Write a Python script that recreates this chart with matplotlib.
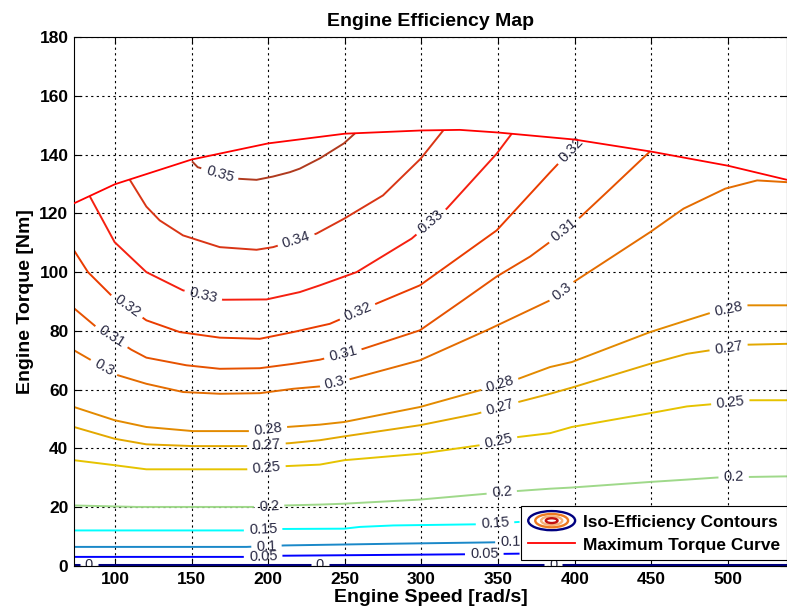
import numpy as np
import matplotlib
matplotlib.use("Agg")
import matplotlib.pyplot as plt
from matplotlib.contour import ContourSet
from matplotlib.legend_handler import HandlerBase
from matplotlib.patches import Ellipse, Patch

plt.rcParams['font.family'] = ['Liberation Sans', 'DejaVu Sans']

# efficiency levels and their line colours
levels = [0, 0.05, 0.1, 0.15, 0.2, 0.25, 0.27, 0.28, 0.3, 0.31, 0.32, 0.33, 0.34, 0.35]
level_colors = ['#000080', '#0000ff', '#1a88c8', '#00ffff', '#9fd98a', '#e6c300', '#e3a800',
                '#e38a00', '#e46c00', '#e65200', '#ea3c00', '#f52010', '#d93515', '#b03a1e']

# maximum torque curve
max_speed = [73.3, 100, 150, 200, 250, 300, 325, 350, 400, 450, 500, 538.5]
max_torque = [123.4, 129.9, 138.3, 143.8, 147.1, 148.2, 148.4, 147.5, 145.1, 141.0, 136.2, 131.4]

# iso-efficiency lines (speed rad/s, torque Nm)
c000_speed = [73.3, 538.5]
c000_torque = [0.3, 0.3]
c005_speed = [73.3, 185.8, 209.7, 331.7, 364.0]
c005_torque = [3.1, 3.1, 3.5, 4.0, 4.2]
c010_speed = [73.3, 185.8, 210.8, 283.8, 340.4, 364.0]
c010_torque = [6.5, 6.5, 7.0, 7.6, 8.0, 8.2]
c015_speed = [73.3, 185.8, 209.7, 249.6, 259.8, 281.6, 338.2, 364.0]
c015_torque = [12.1, 12.1, 12.6, 12.7, 13.3, 13.8, 14.2, 15.0]
c020_speed = [73.3, 114.0, 192.4, 210.8, 233.7, 249.6, 299.0, 342.6, 362.2, 383.9, 398.1,
              449.2, 473.2, 492.8, 513.5, 538.5]
c020_torque = [20.6, 20.1, 20.1, 20.6, 20.9, 21.2, 22.6, 24.6, 25.5, 26.3, 26.7,
               28.6, 29.4, 30.1, 30.3, 30.5]
c025_speed = [73.3, 99.8, 120.5, 185.8, 212.0, 233.7, 249.6, 299.0, 338.2, 363.2, 383.9,
              398.1, 449.2, 473.2, 488.4, 513.5, 538.5]
c025_torque = [36.0, 34.3, 32.9, 32.9, 34.0, 34.5, 36.0, 38.2, 41.1, 43.9, 45.2,
               47.3, 52.0, 54.3, 55.0, 56.4, 56.4]
c027_speed = [73.3, 99.8, 120.5, 150.9, 185.8, 214.1, 233.7, 249.6, 299.0, 336.1, 363.2,
              383.9, 398.1, 449.2, 473.2, 488.4, 512.4, 538.5]
c027_torque = [47.3, 43.3, 41.4, 40.8, 40.8, 41.8, 42.8, 44.1, 47.9, 51.8, 55.8,
               58.6, 60.7, 68.8, 72.2, 73.4, 75.3, 75.6]
c028_speed = [73.3, 99.8, 120.5, 150.9, 190.1, 212.0, 233.7, 249.6, 299.0, 338.2, 363.2,
              383.9, 398.1, 449.2, 473.2, 488.4, 512.4, 538.5]
c028_torque = [54.1, 49.6, 47.3, 45.9, 45.9, 47.3, 48.1, 49.0, 54.1, 59.8, 63.7,
               67.7, 69.4, 79.6, 83.6, 86.1, 88.7, 88.7]
c030_speed = [73.3, 84.6, 102.0, 120.5, 144.4, 168.4, 194.5, 216.3, 233.7, 252.2, 299.0,
              342.6, 383.9, 399.2, 449.2, 471.0, 498.2, 519.0, 538.5]
c030_torque = [73.4, 70.0, 64.9, 62.0, 59.2, 58.6, 58.8, 60.3, 61.1, 63.4, 70.0,
               80.2, 90.4, 96.6, 113.6, 121.6, 128.4, 131.2, 130.6]
c031_speed = [73.3, 87.9, 110.7, 120.5, 146.6, 168.4, 194.5, 216.3, 233.7, 262.0, 299.0,
              327.1, 349.1, 370.9, 382.6, 403.6, 421.0, 449.2]
c031_torque = [87.7, 81.3, 73.6, 70.9, 68.3, 67.1, 67.3, 68.8, 70.2, 73.9, 80.2,
               90.4, 98.5, 105.3, 109.8, 118.7, 127.2, 141.1]
c032_speed = [73.3, 82.4, 97.6, 120.5, 142.3, 168.4, 194.5, 216.3, 240.2, 270.7, 299.0,
              349.1, 384.0, 403.6]
c032_torque = [107.4, 100.0, 92.1, 83.6, 79.6, 77.7, 77.3, 79.6, 82.4, 89.3, 95.5,
               114.2, 134.0, 144.8]
c033_speed = [83.5, 99.8, 120.5, 144.4, 170.5, 198.9, 220.6, 233.7, 257.7, 293.6, 316.5,
              349.1, 358.9]
c033_torque = [125.9, 110.2, 100.0, 93.8, 90.6, 90.7, 93.2, 95.5, 100.0, 111.4, 121.6,
               140.3, 147.1]
c034_speed = [109.6, 120.5, 129.2, 144.4, 168.4, 192.4, 203.2, 231.5, 249.6, 274.9, 299.5, 314.2]
c034_torque = [131.5, 122.3, 117.6, 112.5, 108.5, 107.6, 108.5, 113.1, 118.2, 126.1, 138.6, 148.2]
c035_speed = [150.3, 154.0, 179.3, 192.4, 203.0, 214.1, 220.6, 233.7, 249.4, 256.6]
c035_torque = [137.7, 135.7, 131.8, 131.4, 132.5, 134.0, 135.2, 138.7, 143.8, 147.2]

# where the contour labels sit
label_pos = [(82.9, 0.3), (233.7, 0.3), (385.9, 0.3),
             (196.7, 3.2), (341.0, 4.0),
             (198.9, 6.6), (358.0, 8.1),
             (196.7, 12.1), (348.0, 14.5),
             (200.6, 20.2), (352.4, 25.0), (503.7, 30.2),
             (198.9, 33.3), (350.2, 42.4), (501.5, 55.7),
             (198.9, 41.2), (351.3, 53.7), (500.4, 74.3),
             (199.9, 46.4), (351.3, 61.5), (500.4, 87.4),
             (92.2, 67.0), (243.5, 62.2), (391.6, 93.3),
             (96.5, 77.0), (248.9, 71.8), (393.7, 113.8),
             (107.4, 88.0), (258.7, 86.0), (398.1, 141.4),
             (157.5, 91.8), (306.7, 116.8),
             (218.5, 110.5),
             (168.4, 133.5)]


class HandlerIso(HandlerBase):
    # little nested ellipses like matlab's contour legend icon
    def create_artists(self, legend, orig_handle, xdescent, ydescent, width, height, fontsize, trans):
        cx = width / 2 - xdescent
        cy = height / 2 - ydescent
        h = fontsize * 1.1
        rings = [(1.0, '#000080'), (0.7, '#ee7a20'), (0.45, '#f6b27a'), (0.25, '#c01010')]
        arts = []
        for frac, col in rings:
            e = Ellipse((cx, cy), width * frac, h * frac, fill=False, edgecolor=col,
                        linewidth=1.7, transform=trans)
            arts.append(e)
        return arts


fig = plt.figure(figsize=(7.87, 6.16), dpi=100)
ax = fig.add_axes([74 / 787, 50 / 616, 713 / 787, 529 / 616])
ax.set_xlim(73.3, 538.5)
ax.set_ylim(0, 180)

allsegs = []
for sp, tq in [(c000_speed, c000_torque), (c005_speed, c005_torque), (c010_speed, c010_torque),
               (c015_speed, c015_torque), (c020_speed, c020_torque), (c025_speed, c025_torque),
               (c027_speed, c027_torque), (c028_speed, c028_torque), (c030_speed, c030_torque),
               (c031_speed, c031_torque), (c032_speed, c032_torque), (c033_speed, c033_torque),
               (c034_speed, c034_torque), (c035_speed, c035_torque)]:
    allsegs.append([np.column_stack([sp, tq])])

lws = [2.2] + [1.4] * (len(levels) - 1)
cs = ContourSet(ax, levels, allsegs, colors=level_colors, linewidths=lws)
ax.set_xlim(73.3, 538.5)
ax.set_ylim(0, 180)
cs.clabel(fontsize=10.5, inline=True, inline_spacing=5, fmt='%g', colors='#2a2a44', manual=label_pos)

ax.plot(max_speed, max_torque, color='#ff0000', linewidth=1.3, zorder=4)

ax.set_xticks([100, 150, 200, 250, 300, 350, 400, 450, 500])
ax.set_yticks(np.arange(0, 181, 20))
ax.grid(True, color='black', linestyle=(0, (2, 3)), linewidth=0.8)
ax.tick_params(direction='in', length=5, width=0.8, top=True, right=True, labelsize=12.5, pad=4)
for lbl in ax.get_xticklabels() + ax.get_yticklabels():
    lbl.set_fontweight('bold')
for s in ax.spines.values():
    s.set_linewidth(0.8)
    s.set_color('black')

ax.set_title('Engine Efficiency Map', fontsize=14, fontweight='bold', pad=8)
ax.set_xlabel('Engine Speed [rad/s]', fontsize=14, fontweight='bold', labelpad=2)
ax.set_ylabel('Engine Torque [Nm]', fontsize=14, fontweight='bold', labelpad=4)

iso_proxy = Patch()
torque_proxy, = ax.plot([], [], color='#ff0000', linewidth=1.3)
leg = ax.legend([iso_proxy, torque_proxy], ['Iso-Efficiency Contours', 'Maximum Torque Curve'],
                handler_map={iso_proxy: HandlerIso()}, loc='lower right',
                bbox_to_anchor=(1.0, 0.011), borderaxespad=0, fancybox=False, framealpha=1,
                edgecolor='black', prop={'weight': 'bold', 'size': 12.5},
                handlelength=2.7, handleheight=1.0, handletextpad=0.45, labelspacing=0.4,
                borderpad=0.4)
leg.get_frame().set_linewidth(0.8)
leg.set_zorder(6)

fig.savefig('out.png', dpi=100)
